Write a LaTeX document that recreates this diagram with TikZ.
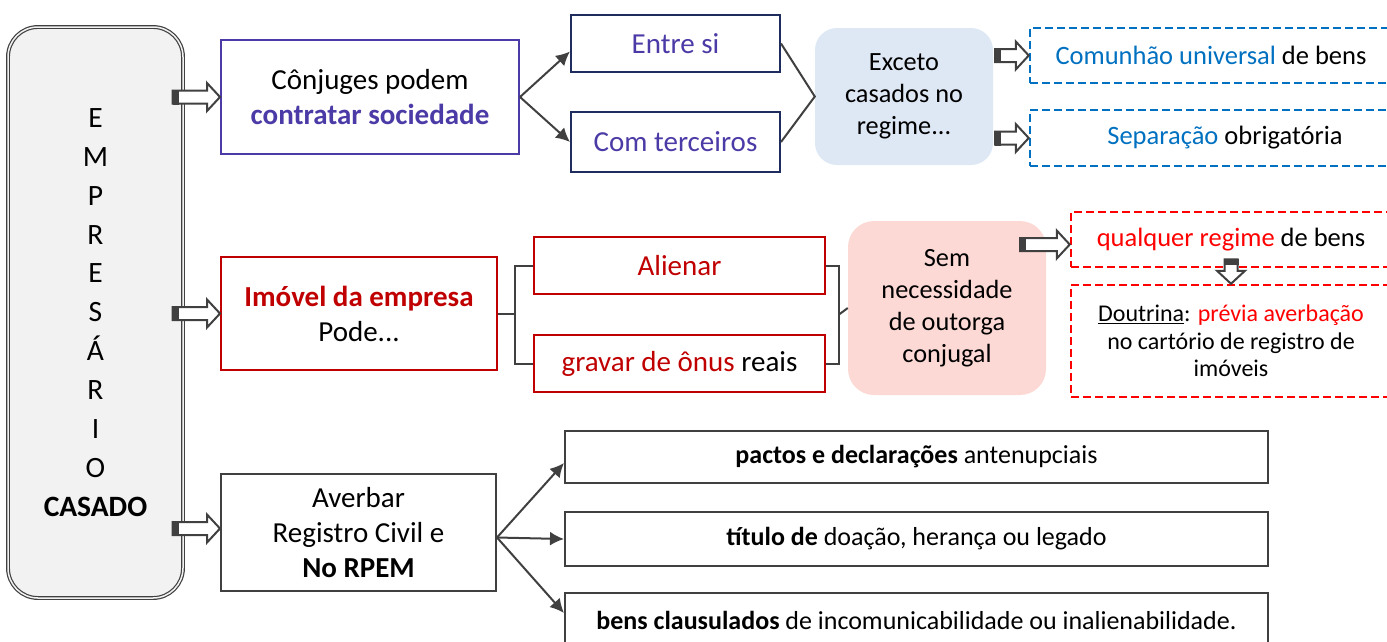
\documentclass[tikz,border=0pt]{standalone}
\usepackage{fontspec}
\setmainfont{Carlito}
\usepackage{tikz}
\usetikzlibrary{calc, arrows.meta, positioning}
\definecolor{indigoTxt}{HTML}{4B3BA6}
\definecolor{navyLine}{HTML}{1F2D5E}
\definecolor{darkRed}{HTML}{C00000}
\definecolor{brightRed}{HTML}{FF0000}
\definecolor{blueTxt}{HTML}{0070C0}
\definecolor{lineGray}{HTML}{404040}
\definecolor{paleBlue}{HTML}{DEE8F4}
\definecolor{palePink}{HTML}{FCD9D4}
\definecolor{boxGray}{HTML}{F2F2F2}

% hollow block arrow from #1 to #2
\newcommand{\hollowarrow}[2]{%
  \coordinate (ha-s) at #1;
  \coordinate (ha-e) at #2;
  \coordinate (ha-b) at ($(ha-e)!13pt!(ha-s)$);
  \coordinate (ha-t) at ($(ha-s)!6pt!(ha-e)$);
  \draw[hollow] ($(ha-s)!6.5pt!90:(ha-e)$) -- ($(ha-b)!6.5pt!-90:(ha-s)$)
    -- ($(ha-b)!14pt!-90:(ha-s)$) -- (ha-e) -- ($(ha-b)!14pt!90:(ha-s)$)
    -- ($(ha-b)!6.5pt!90:(ha-s)$) -- ($(ha-s)!6.5pt!-90:(ha-e)$) -- cycle;
  \fill[lineGray] ($(ha-s)!7.5pt!90:(ha-e)$) -- ($(ha-s)!7.5pt!-90:(ha-e)$)
    -- ($(ha-t)!7.5pt!90:(ha-s)$) -- ($(ha-t)!7.5pt!-90:(ha-s)$) -- cycle;
}

\begin{document}
\begin{tikzpicture}[x=1pt, y=-1pt,
    box/.style={draw, line width=2pt, align=center, inner sep=0pt, fill=white,
      font=\fontsize{29}{35}\selectfont},
    softbox/.style={align=center, inner sep=0pt, rounded corners=22pt,
      font=\fontsize{26.3}{32}\selectfont},
    dashbox/.style={draw, line width=2.5pt, dash pattern=on 8pt off 4pt, align=center,
      inner sep=0pt, font=\fontsize{26.5}{31}\selectfont},
    listbox/.style={draw=lineGray, line width=2pt, inner sep=0pt, minimum width=703pt,
      font=\fontsize{26}{31}\selectfont},
    conn/.style={lineGray, line width=2pt},
    arr/.style={conn, -{Latex[length=14pt, width=14pt]}},
    hollow/.style={draw=lineGray, fill=white, line width=2pt, line join=miter}]
    \useasboundingbox (0,0) rectangle (1387,641);

    % Left column
    \node[draw=lineGray, line width=1.2pt, double=boxGray, double distance=1.5pt,
      fill=boxGray, rounded corners=30pt, minimum width=175pt, minimum height=571pt,
      align=center, font=\fontsize{29.5}{38.9}\selectfont] (lbox) at (95.5,312.5)
      {E\\M\\P\\R\\E\\S\\Á\\R\\I\\O\\\textbf{CASADO}};

    % Top row
    \node[box, draw=indigoTxt, minimum width=298pt, minimum height=114pt] (conj) at (370,97)
      {Cônjuges podem\\{\color{indigoTxt}\textbf{contratar sociedade}}};
    \node[box, draw=navyLine, text=indigoTxt, minimum width=209pt, minimum height=57pt] (entre) at (675.5,43.5) {Entre si};
    \node[box, draw=navyLine, text=indigoTxt, minimum width=209pt, minimum height=60pt] (terc) at (675.5,142) {Com terceiros};
    \node[softbox, fill=paleBlue, minimum width=178pt, minimum height=137pt] (exceto) at (904,96.5)
      {Exceto\\casados no\\regime...};
    \node[dashbox, draw=blueTxt, minimum width=362pt, minimum height=55pt] (comun) at (1211,55.5)
      {\textcolor{blueTxt}{Comunhão universal} de bens};
    \node[dashbox, draw=blueTxt, minimum width=390pt, minimum height=56pt] (separ) at (1225,138)
      {\textcolor{blueTxt}{Separação} obrigatória};

    % Middle row
    \node[box, draw=darkRed, minimum width=276pt, minimum height=113pt] (imovel) at (359,313.5)
      {{\color{darkRed}\textbf{Imóvel da empresa}}\\Pode...};
    \node[box, draw=darkRed, text=darkRed, minimum width=291pt, minimum height=57pt] (alien) at (679.5,265.5) {Alienar};
    \node[box, draw=darkRed, minimum width=291pt, minimum height=57pt] (gravar) at (679.5,363.5)
      {\textcolor{darkRed}{gravar de ônus} reais};
    \node[softbox, fill=palePink, rounded corners=26pt, minimum width=198pt, minimum height=174pt] (sem) at (947,308)
      {Sem\\necessidade\\de outorga\\conjugal};
    \node[dashbox, draw=brightRed, minimum width=320pt, minimum height=55pt] (qualq) at (1231,239.5)
      {\textcolor{brightRed}{qualquer regime} de bens};
    \node[dashbox, draw=brightRed, minimum width=320pt, minimum height=112pt,
      font=\fontsize{24}{27.5}\selectfont] (doutr) at (1231,341)
      {\underline{Doutrina}: \textcolor{brightRed}{prévia averbação}\\no cartório de registro de\\imóveis};

    % Bottom row
    \node[box, draw=lineGray, minimum width=275pt, minimum height=117pt] (averb) at (358.5,532.5)
      {Averbar\\Registro Civil e\\\textbf{No RPEM}};
    \node[listbox, minimum height=52pt] (pactos) at (916.5,457) {\textbf{pactos e declarações} antenupciais};
    \node[listbox, minimum height=54pt] (titulo) at (916.5,539) {\textbf{título de} doação, herança ou legado};
    \node[listbox, minimum height=54pt] (bens) at (916.5,620) {\textbf{bens clausulados} de incomunicabilidade ou inalienabilidade.};

    % Connectors
    \draw[arr] (conj.east) -- ($(entre.west)+(0,8)$);
    \draw[arr] (conj.east) -- (terc.west);
    \draw[conn] (entre.east) -- (exceto.west) -- (terc.east);

    \draw[conn] (imovel.east) -- ++(17,0) coordinate (jl);
    \draw[conn] (alien.west) -| (jl) |- (gravar.west);
    \coordinate (jr) at ($(alien.east)!0.5!(gravar.east)+(13,0)$);
    \draw[conn] (alien.east) -| (jr) |- (gravar.east);
    \draw[conn] (jr) -- (sem.west);

    \draw[arr] ($(averb.east)+(0,5)$) -- ($(pactos.west)+(0,6)$);
    \draw[arr] ($(averb.east)+(0,5)$) -- (titulo.west);
    \draw[arr] ($(averb.east)+(0,5)$) -- ($(bens.west)+(0,-7)$);

    % Block arrows
    \hollowarrow{($(lbox.east |- conj.west)+(-11,0)$)}{(conj.west)}
    \hollowarrow{($(lbox.east |- imovel.west)+(-11,0)$)}{(imovel.west)}
    \hollowarrow{($(lbox.east |- averb.west)+(-11,-4)$)}{($(averb.west)+(0,-4)$)}
    \hollowarrow{($(exceto.east |- comun.west)+(2,0)$)}{(comun.west)}
    \hollowarrow{($(exceto.east |- separ.west)+(2,0)$)}{(separ.west)}
    \hollowarrow{($(sem.east |- qualq.west)+(-26,5)$)}{($(qualq.west)+(0,5)$)}
    \hollowarrow{($(qualq.south)+(0,-9)$)}{(doutr.north)}
\end{tikzpicture}
\end{document}
